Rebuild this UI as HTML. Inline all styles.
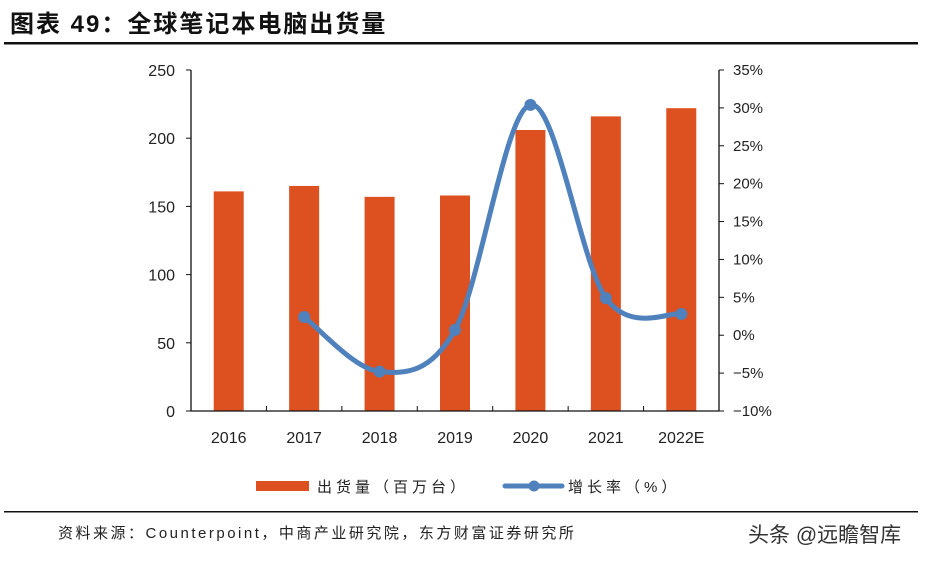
<!DOCTYPE html>
<html><head><meta charset="utf-8"><style>
body{margin:0;background:#fff;}
svg text{font-family:"Liberation Sans","Noto Sans CJK SC",sans-serif;}
</style></head><body>
<svg width="934" height="561" viewBox="0 0 934 561" xmlns="http://www.w3.org/2000/svg">
<text x="10" y="32" font-size="24" font-weight="bold" fill="#111" letter-spacing="2">图表 49：全球笔记本电脑出货量</text>
<rect x="4" y="42" width="914" height="2.5" fill="#111"/>
<g id="plot"></g>
<g>
<rect x="256" y="481" width="53" height="10" fill="#DD5020"/>
<text x="317" y="492" font-size="15" fill="#222" letter-spacing="4">出货量（百万台）</text>
<line x1="505" y1="486" x2="562" y2="486" stroke="#4F81BD" stroke-width="5" stroke-linecap="round"/>
<circle cx="534" cy="486" r="5.5" fill="#4F81BD"/>
<text x="568" y="492" font-size="15" fill="#222" letter-spacing="4">增长率（%）</text>
</g>
<rect x="4" y="511" width="914" height="1.5" fill="#111"/>
<text x="58" y="538" font-size="15" fill="#222" letter-spacing="2.5">资料来源：Counterpoint，中商产业研究院，东方财富证券研究所</text>
<text x="748" y="542" font-size="21" fill="#333">头条 @远瞻智库</text>
</svg>
<script>
const categories=["2016","2017","2018","2019","2020","2021","2022E"];
const shipments=[161,165,157,158,206,216,222];
const growth=[null,2.4,-4.8,0.7,30.4,4.9,2.8];
const leftTicks=[0,50,100,150,200,250];
const rightTicks=[-10,-5,0,5,10,15,20,25,30,35];
const NS="http://www.w3.org/2000/svg";
const g=document.getElementById('plot');
const X0=191,X1=719,Y0=411,Y1=70;
const step=(X1-X0)/categories.length;
const xC=i=>X0+step*(i+0.5);
const yL=v=>Y0-(v/250)*(Y0-Y1);
const yR=v=>Y0-((v+10)/45)*(Y0-Y1);
function mk(t,a){const e=document.createElementNS(NS,t);for(const k in a)e.setAttribute(k,a[k]);g.appendChild(e);return e;}
shipments.forEach((v,i)=>{
 const r=mk('rect',{x:xC(i)-15,y:yL(v),width:30,height:Y0-yL(v),fill:'#DD5020'});
 
 
});
let a=mk('line',{x1:X0,y1:Y1,x2:X0,y2:Y0,stroke:'#111','stroke-width':1.3});


a=mk('line',{x1:X1,y1:Y1,x2:X1,y2:Y0,stroke:'#111','stroke-width':1.3});


a=mk('line',{x1:X0,y1:Y0,x2:X1,y2:Y0,stroke:'#111','stroke-width':1.3});


leftTicks.forEach(v=>{
 mk('line',{x1:X0-5,y1:yL(v),x2:X0,y2:yL(v),stroke:'#111'});
 const t=mk('text',{x:X0-16,y:yL(v)+6,'font-size':16,'text-anchor':'end',fill:'#222'});t.textContent=v;
 
 
});
rightTicks.forEach(v=>{
 mk('line',{x1:X1,y1:yR(v),x2:X1+5,y2:yR(v),stroke:'#111'});
 const t=mk('text',{x:X1+14,y:yR(v)+5,'font-size':15,fill:'#222'});t.textContent=(v<0?'−':'')+Math.abs(v)+'%';
 
 
});
for(let i=1;i<categories.length;i++){mk('line',{x1:X0+step*i,y1:Y0,x2:X0+step*i,y2:Y0-5,stroke:'#111'});}
categories.forEach((c,i)=>{
 const t=mk('text',{x:xC(i),y:443,'font-size':16,'text-anchor':'middle',fill:'#222'});t.textContent=c;
 
 
});
const pts=[];growth.forEach((v,i)=>{if(v!==null)pts.push([xC(i),yR(v)]);});
let d='M'+pts[0][0]+','+pts[0][1];
for(let i=0;i<pts.length-1;i++){
 const p0=pts[Math.max(0,i-1)],p1=pts[i],p2=pts[i+1],p3=pts[Math.min(pts.length-1,i+2)];
 const c1=[p1[0]+(p2[0]-p0[0])/6,p1[1]+(p2[1]-p0[1])/6];
 const c2=[p2[0]-(p3[0]-p1[0])/6,p2[1]-(p3[1]-p1[1])/6];
 d+=' C'+c1+' '+c2+' '+p2;
}
const ln=mk('path',{d:d,fill:'none',stroke:'#4F81BD','stroke-width':5,'stroke-linecap':'round'});


growth.forEach((v,i)=>{if(v===null)return;
 const c=mk('circle',{cx:xC(i),cy:yR(v),r:6,fill:'#4F81BD'});
 
 
});
</script>
</body></html>
